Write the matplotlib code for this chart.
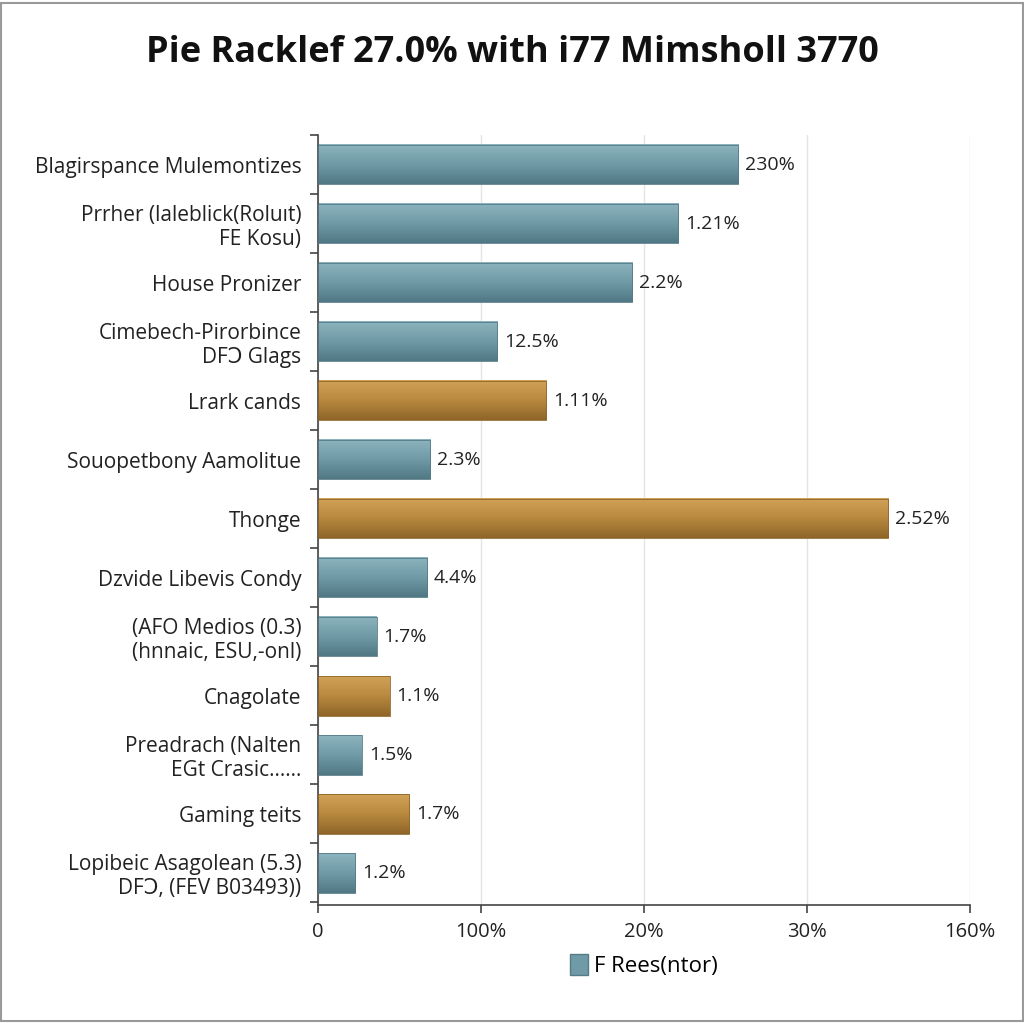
import numpy as np
from matplotlib import pyplot as plt
import matplotlib.patches as mpatches
from matplotlib.colors import LinearSegmentedColormap

plt.rcParams['font.family'] = ['Open Sans', 'DejaVu Sans']

names = ["Blagirspance Mulemontizes",
         "Prrher (laleblick(Rolu\u0131t)\nFE Kosu)",
         "House Pronizer",
         "Cimebech-Pirorbince\nDF\u0186 Glags",
         "Lrark cands",
         "Souopetbony Aamolitue",
         "Thonge",
         "Dzvide Libevis Condy",
         "(AFO Medios (0.3)\n(hnnaic, ESU,-onl)",
         "Cnagolate",
         "Preadrach (Nalten\nEGt Crasic......",
         "Gaming teits",
         "Lopibeic Asagolean (5.3)\nDF\u0186, (FEV B03493))"]
values = [2.58, 2.21, 1.93, 1.10, 1.40, 0.69, 3.50, 0.67, 0.36, 0.44, 0.27, 0.56, 0.23]
value_labels = ["230%", "1.21%", "2.2%", "12.5%", "1.11%", "2.3%", "2.52%",
                "4.4%", "1.7%", "1.1%", "1.5%", "1.7%", "1.2%"]
groups = ["t", "t", "t", "t", "g", "t", "g", "t", "t", "g", "t", "g", "t"]
x_ticks = [0, 1, 2, 3, 4]
x_tick_labels = ["0", "100%", "20%", "30%", "160%"]
legend_label = "F Rees(ntor)"

cmaps = {
    "t": LinearSegmentedColormap.from_list("teal", ["#8db4be", "#6f9aa6", "#517985"]),
    "g": LinearSegmentedColormap.from_list("gold", ["#d0a257", "#b8893e", "#8f6629"]),
}
edge = {"t": "#557b86", "g": "#8f672b"}

fig = plt.figure(figsize=(10.24, 10.24), dpi=100)
ax = fig.add_axes([0.3105, 0.116, 0.6365, 0.752])

ypos = np.arange(len(names))
bar_h = 0.67
grad = np.linspace(0, 1, 64).reshape(-1, 1)
bars = ax.barh(ypos, values, height=bar_h, color="none", edgecolor="none", zorder=2)
for b, g in zip(bars, groups):
    x0, y0 = b.get_x(), b.get_y()
    w, h = b.get_width(), b.get_height()
    ax.imshow(grad, cmap=cmaps[g], aspect="auto", zorder=2,
              extent=(x0, x0 + w, y0 + h, y0), interpolation="bicubic")
    ax.add_patch(mpatches.Rectangle((x0, y0), w, h, fill=False,
                                    edgecolor=edge[g], linewidth=0.6, zorder=3))

for y, v, lab in zip(ypos, values, value_labels):
    ax.annotate(lab, xy=(v, y), xytext=(5, 0), textcoords="offset points",
                va="center", ha="left", fontsize=14, color="#222222")

ax.set_xlim(0, 4)
ax.set_ylim(12.55, -0.5)
ax.set_xticks(x_ticks)
ax.set_xticklabels(x_tick_labels, fontsize=14.5, color="#222222")
ax.set_yticks(ypos)
ax.set_yticklabels(names, fontsize=15, color="#222222", linespacing=1.2,
                   multialignment="right")
ax.set_yticks(np.arange(-0.5, len(names), 1), minor=True)
ax.tick_params(axis="y", which="major", length=0, pad=12)
ax.tick_params(axis="y", which="minor", length=6, color="#444444", width=1.2)
ax.tick_params(axis="x", length=6, color="#444444", width=1.2, pad=6)

ax.grid(axis="x", color="#e4e4e4", linewidth=1, zorder=0)
ax.set_axisbelow(True)
ax.spines['right'].set_visible(False)
ax.spines['top'].set_visible(False)
ax.spines['left'].set_color("#444444")
ax.spines['bottom'].set_color("#444444")
ax.spines['left'].set_linewidth(1.2)
ax.spines['bottom'].set_linewidth(1.2)

fig.suptitle("Pie Racklef 27.0% with i77 Mimsholl 3770", y=0.966,
             fontsize=26, fontweight="bold", color="#111111")

handle = mpatches.Patch(facecolor="#6f9aa6", edgecolor="#557b86", label=legend_label)
fig.legend(handles=[handle], loc="center", bbox_to_anchor=(0.629, 0.057),
           frameon=False, fontsize=16, handlelength=0.8, handleheight=1.1,
           handletextpad=0.3)

fig.add_artist(mpatches.Rectangle((0.001, 0.003), 0.998, 0.994, transform=fig.transFigure,
                                  fill=False, edgecolor="#999999", linewidth=1.5))

plt.savefig('out.png', dpi=100)
